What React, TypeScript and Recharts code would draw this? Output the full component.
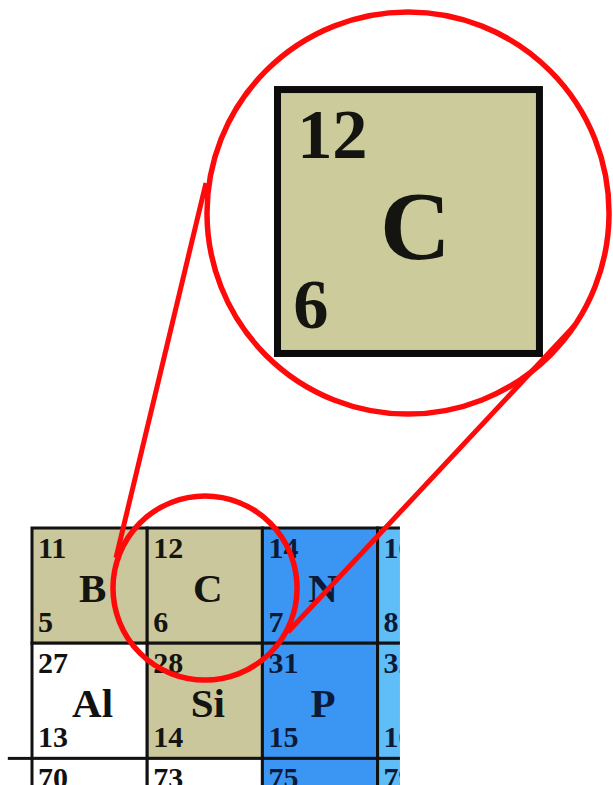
import { ComposedChart, XAxis, YAxis, ReferenceArea, ReferenceLine } from 'recharts';

// chart frame: one unit = one cell of the table
const W = 613;
const H = 785;
const UNIT = 115.2;
const X_MIN = -32 / UNIT;
const X_MAX = X_MIN + W / UNIT;
const Y_MIN = -528 / UNIT;
const Y_MAX = Y_MIN + H / UNIT;

// table cells
const symbols = ['B', 'C', 'N', 'O', 'Al', 'Si', 'P', 'S', 'Ga', 'Ge', 'As', 'Se'];
const massNumbers = [11, 12, 14, 16, 27, 28, 31, 32, 70, 73, 75, 79];
const atomicNumbers = [5, 6, 7, 8, 13, 14, 15, 16, 31, 32, 33, 34];
const columns = [0, 1, 2, 3, 0, 1, 2, 3, 0, 1, 2, 3];
const rows = [0, 0, 0, 0, 1, 1, 1, 1, 2, 2, 2, 2];
const groups = [
  'metalloid', 'metalloid', 'pnictogen', 'chalcogen',
  'metal', 'metalloid', 'pnictogen', 'chalcogen',
  'metal', 'metal', 'pnictogen', 'chalcogen',
];

// magnified element (index into the arrays above)
const zoomIndex = 1;
const zoomBox = [2.131, -3.806, 4.405, -1.515];
const bigCircle = [3.264, -2.734, 1.745]; // cx, cy, r
const smallCircle = [1.502, 0.521, 0.799];
const connectorLeft = [[1.510, -2.995], [0.729, 0.26]];
const connectorRight = [[4.714, -1.762], [2.222, 0.903]];
const cropRight = 3.194;
const leftStubX = -0.21;

const groupFill: Record<string, string> = {
  metalloid: '#c9c79b',
  pnictogen: '#3a96f2',
  chalcogen: '#5fbdf8',
  metal: '#ffffff',
};
const groupInk: Record<string, string> = {
  metalloid: '#141410',
  pnictogen: '#0c1a38',
  chalcogen: '#0c1a38',
  metal: '#111111',
};

const SERIF = "'Liberation Serif', 'Times New Roman', serif";
const RED = '#ff0a0a';

const CellShape = (p: any) => {
  const { x, y, width, height, i, big } = p;
  if (x == null || isNaN(x)) return <g />;
  const g = groups[i];
  const ink = groupInk[g];
  const s = width / UNIT;
  const numX = big ? x + 0.06 * width : x + 6 * s;
  const massX = big ? x + 0.075 * width : x + 6 * s;
  const smallFont = (big ? 31 : 30) * s;
  const symFont = (big ? 43 : 41) * s;
  const massY = y + 0.26 * height;
  const symY = y + 0.643 * height;
  const numY = y + 0.902 * height;
  // the photo is cut at the bottom: texts that fall wholly below it are not drawn
  const shown = (baseline: number, size: number) => baseline - size * 0.7 < H;
  return (
    <g>
      <rect
        x={x}
        y={y}
        width={width}
        height={height}
        fill={big ? '#cccb9c' : groupFill[g]}
        stroke={big ? '#0b0b0b' : '#121212'}
        strokeWidth={big ? 7 : 3}
      />
      {shown(massY, smallFont) && (
        <text x={massX} y={massY} fontFamily={SERIF} fontWeight="bold" fontSize={smallFont} fill={ink}>
          {massNumbers[i]}
        </text>
      )}
      {shown(symY, symFont) && (
        <text
          x={x + 0.526 * width}
          y={symY}
          textAnchor="middle"
          fontFamily={SERIF}
          fontWeight="bold"
          fontSize={symFont}
          fill={ink}
        >
          {symbols[i]}
        </text>
      )}
      {shown(numY, smallFont) && (
        <text x={numX} y={numY} fontFamily={SERIF} fontWeight="bold" fontSize={smallFont} fill={ink}>
          {atomicNumbers[i]}
        </text>
      )}
    </g>
  );
};

const RingShape = (p: any) => {
  const { x, y, width, height } = p;
  if (x == null || isNaN(x)) return <g />;
  return (
    <ellipse
      cx={x + width / 2}
      cy={y + height / 2}
      rx={width / 2}
      ry={height / 2}
      fill="none"
      stroke={RED}
      strokeWidth={5.5}
    />
  );
};

const ring = (c: number[], key: string) => (
  <ReferenceArea
    key={key}
    x1={c[0] - c[2]}
    x2={c[0] + c[2]}
    y1={c[1] - c[2]}
    y2={c[1] + c[2]}
    ifOverflow="visible"
    shape={(p: any) => <RingShape {...p} />}
  />
);

export default function App() {
  return (
    <div style={{ position: 'absolute', left: 0, top: 0, width: W, height: H, background: '#fff' }}>
      <ComposedChart width={W} height={H} data={[]} margin={{ top: 0, right: 0, bottom: 0, left: 0 }}>
        <XAxis type="number" dataKey="x" hide domain={[X_MIN, X_MAX]} allowDataOverflow />
        <YAxis type="number" dataKey="y" hide reversed domain={[Y_MIN, Y_MAX]} allowDataOverflow />

        {symbols.map((sym, i) => (
          <ReferenceArea
            key={sym}
            x1={columns[i]}
            x2={columns[i] + 1}
            y1={rows[i]}
            y2={rows[i] + 1}
            ifOverflow="visible"
            shape={(p: any) => <CellShape {...p} i={i} />}
          />
        ))}

        {/* picture is cropped on the right */}
        <ReferenceArea
          x1={cropRight}
          x2={X_MAX}
          y1={-0.05}
          y2={Y_MAX}
          ifOverflow="visible"
          fill="#ffffff"
          fillOpacity={1}
          stroke="none"
        />
        <ReferenceLine
          segment={[{ x: leftStubX, y: 2 }, { x: 0, y: 2 }]}
          stroke="#121212"
          strokeWidth={3}
          ifOverflow="visible"
        />

        <ReferenceArea
          x1={zoomBox[0]}
          x2={zoomBox[2]}
          y1={zoomBox[1]}
          y2={zoomBox[3]}
          ifOverflow="visible"
          shape={(p: any) => <CellShape {...p} i={zoomIndex} big />}
        />

        {ring(bigCircle, 'big')}
        {ring(smallCircle, 'small')}

        <ReferenceLine
          segment={[
            { x: connectorLeft[0][0], y: connectorLeft[0][1] },
            { x: connectorLeft[1][0], y: connectorLeft[1][1] },
          ]}
          stroke={RED}
          strokeWidth={5}
          ifOverflow="visible"
        />
        <ReferenceLine
          segment={[
            { x: connectorRight[0][0], y: connectorRight[0][1] },
            { x: connectorRight[1][0], y: connectorRight[1][1] },
          ]}
          stroke={RED}
          strokeWidth={5}
          ifOverflow="visible"
        />
      </ComposedChart>
    </div>
  );
}
